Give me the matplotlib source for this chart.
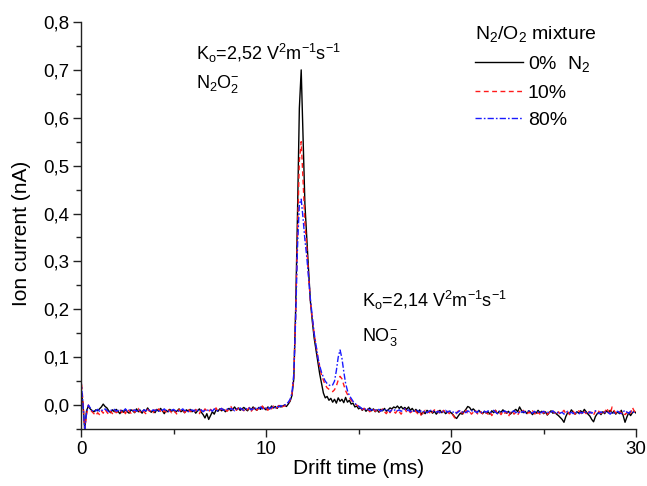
import numpy as np
import matplotlib
matplotlib.use("Agg")
from matplotlib import pyplot as plt
from matplotlib.ticker import MultipleLocator, FuncFormatter

plt.rcParams['font.family'] = ['Liberation Sans', 'DejaVu Sans']
plt.rcParams['mathtext.fontset'] = 'custom'
plt.rcParams['mathtext.rm'] = 'Liberation Sans'
plt.rcParams['mathtext.it'] = 'Liberation Sans:italic'

# drift time grid, 0.1 ms steps from 0 to 30 ms
time_ms = np.arange(301) / 10.0

# ion current, in units of 0.001 nA (one row per ms)
black_0 = [
    30, 5, -50, -12, -2, -8, -12, -14, -10, -12,
    -8, -4, 2, -3, -6, -12, -16, -10, -14, -9,
    -13, -18, -11, -15, -9, -14, -17, -10, -12, -16,
    -8, -14, -11, -17, -10, -13, -6, -12, -15, -11,
    -16, -9, -13, -7, -12, -18, -11, -14, -9, -13,
    -10, -15, -12, -8, -14, -11, -16, -10, -13, -9,
    -14, -11, -17, -12, -8, -15, -20, -27, -18, -30,
    -22, -14, -19, -10, -13, -8, -12, -9, -14, -10,
    -7, -12, -9, -4, -10, -6, -11, -8, -5, -9,
    -12, -6, -10, -4, -8, -11, -5, -9, -3, -7,
    -10, -4, -8, -2, -6, -3, -7, -1, -4, -2,
    0, -3, 2, 8, 20, 55, 200, 400, 620, 700,
    560, 420, 350, 280, 215, 175, 140, 115, 90, 65,
    45, 25, 15, 18, 10, 14, 6, 12, 4, 15,
    8, 12, 5, 16, 6, 10, 2, 4, -4, -2,
    -8, -5, -11, -7, -13, -9, -6, -12, -8, -14,
    -10, -15, -9, -12, -7, -13, -10, -6, -8, -4,
    -6, -2, -7, -3, -8, -5, -9, -4, -11, -7,
    -13, -9, -16, -10, -20, -14, -18, -11, -15, -12,
    -17, -13, -19, -14, -11, -16, -12, -18, -15, -13,
    -16, -20, -25, -28, -22, -17, -19, -14, -9, -3,
    -5, -11, -8, -12, -16, -11, -15, -18, -13, -17,
    -14, -19, -12, -16, -11, -18, -13, -15, -10, -14,
    -17, -13, -19, -15, -12, -9, -14, -4, -11, -16,
    -13, -18, -12, -15, -20, -14, -17, -11, -16, -13,
    -18, -14, -21, -16, -12, -17, -15, -19, -22, -26,
    -30, -36, -24, -16, -18, -10, -15, -19, -14, -17,
    -12, -16, -9, -14, -19, -23, -30, -35, -24, -18,
    -15, -20, -14, -18, -12, -16, -11, -17, -13, -19,
    -14, -18, -11, -22, -36, -25, -16, -22, -16, -13,
    -17,
]

red_10 = [
    60, 10, -50, -20, 0, -10, -14, -18, -22, -16,
    -20, -12, -17, -9, -15, -20, -13, -18, -11, -16,
    -14, -9, -16, -11, -18, -8, -13, -17, -10, -15,
    -12, -7, -15, -10, -14, -18, -9, -13, -11, -16,
    -10, -14, -8, -13, -17, -11, -15, -9, -12, -16,
    -11, -15, -20, -9, -13, -10, -16, -12, -8, -14,
    -11, -15, -9, -13, -18, -10, -14, -8, -12, -15,
    -9, -13, -10, -6, -14, -11, -7, -12, -9, -13,
    -8, -3, -10, -6, -11, -7, -4, -9, -12, -6,
    -10, -5, -13, -8, -4, -11, -7, -9, -2, -10,
    -6, -11, -4, -8, -2, -7, -5, -1, -6, -3,
    -2, 0, 4, 10, 22, 60, 190, 360, 510, 550,
    470, 380, 330, 270, 215, 180, 150, 125, 100, 80,
    62, 52, 42, 36, 33, 30, 28, 32, 40, 52,
    60, 55, 42, 30, 22, 16, 10, 6, 2, 0,
    -3, -6, -10, -7, -12, -9, -14, -11, -8, -13,
    -10, -15, -12, -8, -14, -18, -11, -16, -9, -13,
    -17, -10, -14, -19, -12, -8, -15, -11, -16, -13,
    -9, -14, -18, -12, -24, -15, -11, -17, -13, -20,
    -14, -10, -16, -12, -19, -15, -11, -17, -13, -18,
    -15, -21, -27, -16, -12, -18, -14, -20, -11, -16,
    -13, -19, -15, -10, -17, -21, -14, -18, -12, -16,
    -19, -14, -22, -16, -11, -18, -15, -20, -13, -17,
    -14, -24, -16, -12, -19, -15, -21, -13, -17, -11,
    -16, -20, -14, -18, -12, -17, -22, -15, -19, -13,
    -17, -12, -20, -15, -18, -13, -16, -21, -14, -19,
    -15, -11, -18, -14, -20, -16, -13, -19, -17, -12,
    -16, -20, -14, -18, -11, -17, -15, -21, -13, -9,
    -14, -18, -12, -16, -6, -13, -19, -4, -11, -17,
    -15, -12, -18, -14, -20, -16, -11, -17, -5, -13,
    -15,
]

blue_80 = [
    55, 5, -50, -15, 0, -6, -11, -14, -12, -9,
    -13, -10, -12, -8, -11, -14, -10, -12, -9, -13,
    -11, -14, -10, -12, -8, -13, -11, -9, -12, -10,
    -13, -9, -11, -14, -10, -12, -8, -11, -13, -10,
    -12, -9, -13, -10, -11, -8, -12, -14, -10, -11,
    -9, -12, -10, -13, -11, -8, -12, -10, -14, -11,
    -10, -13, -9, -11, -12, -10, -14, -11, -9, -12,
    -10, -13, -8, -11, -12, -9, -7, -11, -10, -8,
    -11, -7, -9, -12, -8, -10, -6, -9, -11, -7,
    -9, -6, -10, -8, -5, -9, -7, -4, -8, -6,
    -7, -4, -8, -5, -3, -6, -2, -4, -1, -3,
    0, 2, 6, 12, 25, 65, 180, 330, 420, 430,
    390, 345, 310, 265, 220, 185, 150, 125, 100, 82,
    68, 58, 50, 45, 42, 40, 42, 50, 72, 100,
    115, 98, 70, 45, 30, 20, 14, 8, 4, 0,
    -2, -5, -8, -6, -10, -8, -11, -9, -12, -10,
    -11, -9, -13, -10, -12, -8, -11, -14, -10, -12,
    -9, -12, -10, -13, -11, -8, -12, -10, -14, -11,
    -13, -10, -12, -15, -11, -14, -12, -16, -13, -11,
    -14, -12, -15, -13, -16, -12, -14, -11, -15, -13,
    -12, -15, -13, -17, -14, -11, -15, -13, -16, -12,
    -14, -11, -15, -13, -16, -12, -14, -17, -13, -15,
    -12, -16, -14, -11, -15, -18, -13, -16, -14, -12,
    -15, -13, -17, -14, -12, -16, -13, -18, -15, -13,
    -16, -14, -12, -15, -17, -13, -16, -14, -18, -15,
    -13, -16, -14, -17, -15, -12, -16, -18, -14, -17,
    -15, -19, -16, -13, -17, -15, -18, -14, -16, -19,
    -15, -17, -13, -16, -18, -14, -17, -15, -12, -16,
    -18, -14, -17, -15, -13, -16, -19, -14, -17, -15,
    -13, -16, -18, -14, -11, -15, -17, -13, -16, -14,
    -15,
]

labels = ['0%  N$_\\mathregular{2}$', '10%', '80%']


def comma(v, pos):
    return ('%.1f' % v).replace('.', ',')


fig = plt.figure(figsize=(6.47, 4.86), dpi=100)
ax = fig.add_axes([0.1252, 0.1173, 0.858, 0.8374])

ax.plot(time_ms, np.array(black_0) / 1000.0, color='black', lw=1.0,
        label=labels[0])
ax.plot(time_ms, np.array(red_10) / 1000.0, color='#ff1a1a', lw=1.0,
        dashes=(3.5, 2.5), label=labels[1])
ax.plot(time_ms, np.array(blue_80) / 1000.0, color='#1a1aff', lw=1.0,
        dashes=(4.5, 1.5, 1.2, 1.5), label=labels[2])

ax.set_xlim(0, 30)
ax.set_ylim(-0.05, 0.8)
ax.xaxis.set_major_locator(MultipleLocator(10))
ax.xaxis.set_minor_locator(MultipleLocator(5))
ax.yaxis.set_major_locator(MultipleLocator(0.1))
ax.yaxis.set_minor_locator(MultipleLocator(0.05))
ax.yaxis.set_major_formatter(FuncFormatter(comma))

for side in ['top', 'right']:
    ax.spines[side].set_visible(False)
for side in ['left', 'bottom']:
    ax.spines[side].set_linewidth(1.0)
    ax.spines[side].set_color('#222222')
ax.tick_params(which='major', direction='out', length=5.5, width=1.0,
               labelsize=13.5, pad=3, color='#222222')
ax.tick_params(which='minor', direction='out', length=3.5, width=1.0,
               color='#222222')

ax.set_xlabel('Drift time (ms)', fontsize=15, labelpad=1)
ax.set_ylabel('Ion current (nA)', fontsize=15)
ax.yaxis.set_label_coords(-0.09, 0.48)

ax.text(0.207, 0.907,
        'K$_\\mathregular{o}$=2,52 V$^\\mathregular{2}$m$^\\mathregular{-1}$s$^\\mathregular{-1}$',
        transform=ax.transAxes, fontsize=13, va='baseline')
ax.text(0.207, 0.838, 'N$_\\mathregular{2}$O$_\\mathregular{2}^\\mathregular{-}$',
        transform=ax.transAxes, fontsize=13, va='baseline')
ax.text(0.506, 0.30,
        'K$_\\mathregular{o}$=2,14 V$^\\mathregular{2}$m$^\\mathregular{-1}$s$^\\mathregular{-1}$',
        transform=ax.transAxes, fontsize=13, va='baseline')
ax.text(0.506, 0.215, 'NO$_\\mathregular{3}^\\mathregular{-}$',
        transform=ax.transAxes, fontsize=13, va='baseline')

leg = ax.legend(title='N$_\\mathregular{2}$/O$_\\mathregular{2}$ mixture',
                loc='upper left', bbox_to_anchor=(0.71, 0.994),
                frameon=False, fontsize=14, title_fontsize=14,
                handlelength=2.45, handletextpad=0.25, borderpad=0,
                borderaxespad=0, labelspacing=0.5, alignment='left')

plt.savefig('out.png', dpi=100)
